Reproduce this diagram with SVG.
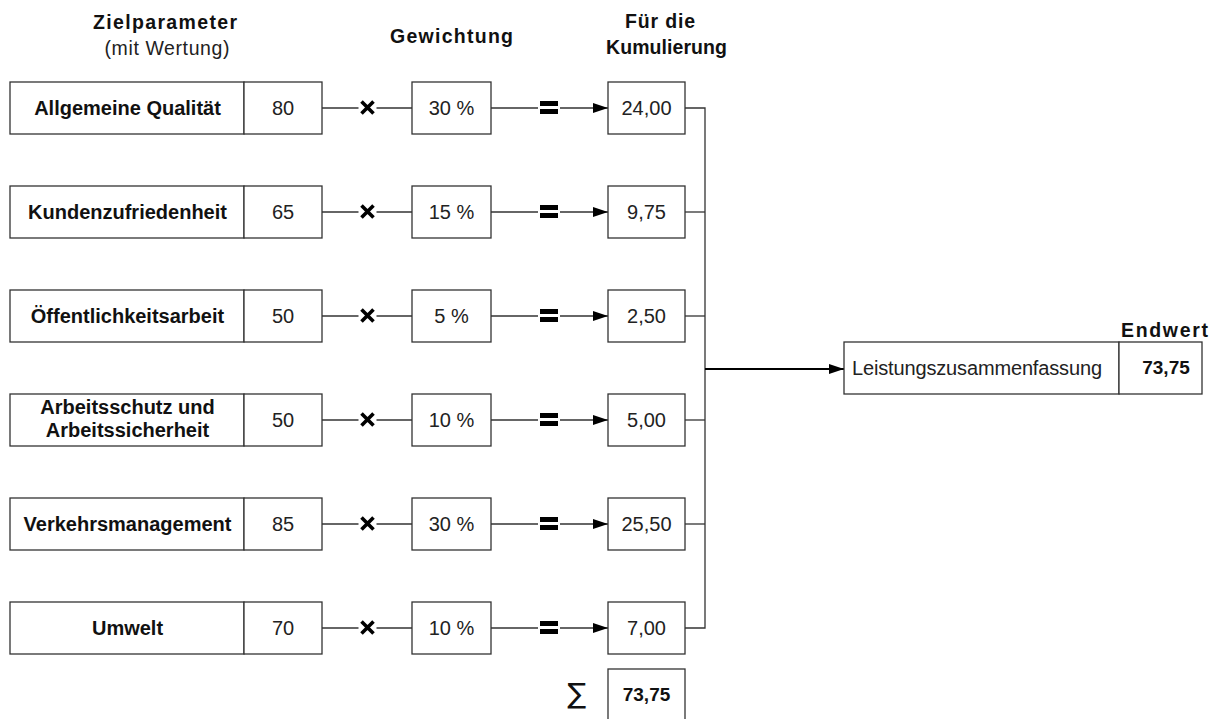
<svg xmlns="http://www.w3.org/2000/svg" width="1212" height="719" viewBox="0 0 1212 719">
  <style>
    .box { fill: #ffffff; stroke: #333333; stroke-width: 1.3; }
    .hdr { font-family: "Liberation Sans", Arial, sans-serif; font-size: 19.5px; font-weight: bold; fill: #111; text-anchor: middle; }
    .sub { font-family: "Liberation Sans", Arial, sans-serif; font-size: 19.5px; fill: #222; text-anchor: middle; }
    .name { font-family: "Liberation Sans", Arial, sans-serif; font-size: 20px; font-weight: bold; fill: #111; text-anchor: middle; }
    .val { font-family: "Liberation Sans", Arial, sans-serif; font-size: 20px; fill: #222; text-anchor: middle; }
    .bval { font-family: "Liberation Sans", Arial, sans-serif; font-size: 19px; font-weight: bold; fill: #111; text-anchor: middle; }
    .ln { stroke: #333333; stroke-width: 1.3; fill: none; }
    .times { stroke: #000; stroke-width: 3.6; stroke-linecap: butt; }
  </style>
  <defs>
    <marker id="arr" markerWidth="15" markerHeight="10" refX="15" refY="5" orient="auto" markerUnits="userSpaceOnUse">
      <path d="M0,0 L15,5 L0,10 Z" fill="#000"/>
    </marker>
    <!-- operators placed on the row lines -->
    <g id="mul">
      <rect x="-9" y="-9" width="18" height="18" fill="#fff"/>
      <path class="times" d="M-6,-6 L6,6 M6,-6 L-6,6"/>
    </g>
    <g id="eq">
      <rect x="-11" y="-9" width="22" height="18" fill="#fff"/>
      <rect x="-9" y="-6.5" width="18" height="5" fill="#000"/>
      <rect x="-9" y="1.5" width="18" height="5" fill="#000"/>
    </g>
  </defs>

  <!-- column headers -->
  <g id="headers">
    <text class="hdr" x="165" y="29" textLength="144" lengthAdjust="spacing">Zielparameter</text>
    <text class="sub" x="167" y="55" textLength="125" lengthAdjust="spacing">(mit Wertung)</text>
    <text class="hdr" x="451.5" y="43" textLength="123" lengthAdjust="spacing">Gewichtung</text>
    <text class="hdr" x="660" y="28" textLength="70" lengthAdjust="spacing">Für die</text>
    <text class="hdr" x="666.5" y="54" textLength="121" lengthAdjust="spacing">Kumulierung</text>
  </g>

  <!-- connectors -->
  <g id="connectors">
    <!-- rows: value -> weight -> result -->
    <g id="row-lines">
      <line class="ln" x1="322" y1="108" x2="412" y2="108"/>
      <line class="ln" x1="491" y1="108" x2="608" y2="108" marker-end="url(#arr)"/>
      <line class="ln" x1="322" y1="212" x2="412" y2="212"/>
      <line class="ln" x1="491" y1="212" x2="608" y2="212" marker-end="url(#arr)"/>
      <line class="ln" x1="322" y1="316" x2="412" y2="316"/>
      <line class="ln" x1="491" y1="316" x2="608" y2="316" marker-end="url(#arr)"/>
      <line class="ln" x1="322" y1="420" x2="412" y2="420"/>
      <line class="ln" x1="491" y1="420" x2="608" y2="420" marker-end="url(#arr)"/>
      <line class="ln" x1="322" y1="524" x2="412" y2="524"/>
      <line class="ln" x1="491" y1="524" x2="608" y2="524" marker-end="url(#arr)"/>
      <line class="ln" x1="322" y1="628" x2="412" y2="628"/>
      <line class="ln" x1="491" y1="628" x2="608" y2="628" marker-end="url(#arr)"/>
    </g>
    <!-- summing bracket -->
    <path class="ln" d="M685,108 H705 V628 H685"/>
    <line class="ln" x1="685" y1="212" x2="705" y2="212"/>
    <line class="ln" x1="685" y1="316" x2="705" y2="316"/>
    <line class="ln" x1="685" y1="420" x2="705" y2="420"/>
    <line class="ln" x1="685" y1="524" x2="705" y2="524"/>
    <line x1="705" y1="369" x2="844" y2="369" stroke="#000" stroke-width="1.8" marker-end="url(#arr)"/>
    <!-- operators -->
    <use href="#mul" x="367.5" y="107.5"/><use href="#eq" x="549" y="107.5"/>
    <use href="#mul" x="367.5" y="211.5"/><use href="#eq" x="549" y="211.5"/>
    <use href="#mul" x="367.5" y="315.5"/><use href="#eq" x="549" y="315.5"/>
    <use href="#mul" x="367.5" y="419.5"/><use href="#eq" x="549" y="419.5"/>
    <use href="#mul" x="367.5" y="523.5"/><use href="#eq" x="549" y="523.5"/>
    <use href="#mul" x="367.5" y="627.5"/><use href="#eq" x="549" y="627.5"/>
  </g>

  <!-- row 1 -->
  <g id="row1">
    <rect class="box" x="10" y="82" width="234" height="52"/>
    <rect class="box" x="244" y="82" width="78" height="52"/>
    <text class="name" x="127.5" y="115">Allgemeine Qualität</text>
    <text class="val" x="283" y="115">80</text>
    <rect class="box" x="412" y="82" width="79" height="52"/>
    <text class="val" x="451.5" y="115">30 %</text>
    <rect class="box" x="608" y="82" width="77" height="52"/>
    <text class="val" x="646.5" y="115">24,00</text>
  </g>

  <!-- row 2 -->
  <g id="row2">
    <rect class="box" x="10" y="186" width="234" height="52"/>
    <rect class="box" x="244" y="186" width="78" height="52"/>
    <text class="name" x="127.5" y="219">Kundenzufriedenheit</text>
    <text class="val" x="283" y="219">65</text>
    <rect class="box" x="412" y="186" width="79" height="52"/>
    <text class="val" x="451.5" y="219">15 %</text>
    <rect class="box" x="608" y="186" width="77" height="52"/>
    <text class="val" x="646.5" y="219">9,75</text>
  </g>

  <!-- row 3 -->
  <g id="row3">
    <rect class="box" x="10" y="290" width="234" height="52"/>
    <rect class="box" x="244" y="290" width="78" height="52"/>
    <text class="name" x="127.5" y="323">Öffentlichkeitsarbeit</text>
    <text class="val" x="283" y="323">50</text>
    <rect class="box" x="412" y="290" width="79" height="52"/>
    <text class="val" x="451.5" y="323">5 %</text>
    <rect class="box" x="608" y="290" width="77" height="52"/>
    <text class="val" x="646.5" y="323">2,50</text>
  </g>

  <!-- row 4 -->
  <g id="row4">
    <rect class="box" x="10" y="394" width="234" height="52"/>
    <rect class="box" x="244" y="394" width="78" height="52"/>
    <text class="name" x="127.5" y="414">Arbeitsschutz und</text>
    <text class="name" x="127.5" y="437">Arbeitssicherheit</text>
    <text class="val" x="283" y="427">50</text>
    <rect class="box" x="412" y="394" width="79" height="52"/>
    <text class="val" x="451.5" y="427">10 %</text>
    <rect class="box" x="608" y="394" width="77" height="52"/>
    <text class="val" x="646.5" y="427">5,00</text>
  </g>

  <!-- row 5 -->
  <g id="row5">
    <rect class="box" x="10" y="498" width="234" height="52"/>
    <rect class="box" x="244" y="498" width="78" height="52"/>
    <text class="name" x="127.5" y="531">Verkehrsmanagement</text>
    <text class="val" x="283" y="531">85</text>
    <rect class="box" x="412" y="498" width="79" height="52"/>
    <text class="val" x="451.5" y="531">30 %</text>
    <rect class="box" x="608" y="498" width="77" height="52"/>
    <text class="val" x="646.5" y="531">25,50</text>
  </g>

  <!-- row 6 -->
  <g id="row6">
    <rect class="box" x="10" y="602" width="234" height="52"/>
    <rect class="box" x="244" y="602" width="78" height="52"/>
    <text class="name" x="127.5" y="635">Umwelt</text>
    <text class="val" x="283" y="635">70</text>
    <rect class="box" x="412" y="602" width="79" height="52"/>
    <text class="val" x="451.5" y="635">10 %</text>
    <rect class="box" x="608" y="602" width="77" height="52"/>
    <text class="val" x="646.5" y="635">7,00</text>
  </g>

  <!-- column total -->
  <g id="sum">
    <text x="577" y="703" font-family="'DejaVu Sans', sans-serif" font-size="28" fill="#111" text-anchor="middle">∑</text>
    <rect class="box" x="608" y="669" width="77" height="52"/>
    <text class="bval" x="646.5" y="701">73,75</text>
  </g>

  <!-- final result -->
  <g id="result">
    <text class="hdr" x="1164.5" y="337" textLength="87" lengthAdjust="spacing">Endwert</text>
    <rect class="box" x="844" y="342" width="275" height="52"/>
    <rect class="box" x="1119" y="342" width="83" height="52"/>
    <text class="val" x="977" y="375" textLength="250" lengthAdjust="spacing">Leistungszusammenfassung</text>
    <text class="bval" x="1166" y="374">73,75</text>
  </g>
</svg>
